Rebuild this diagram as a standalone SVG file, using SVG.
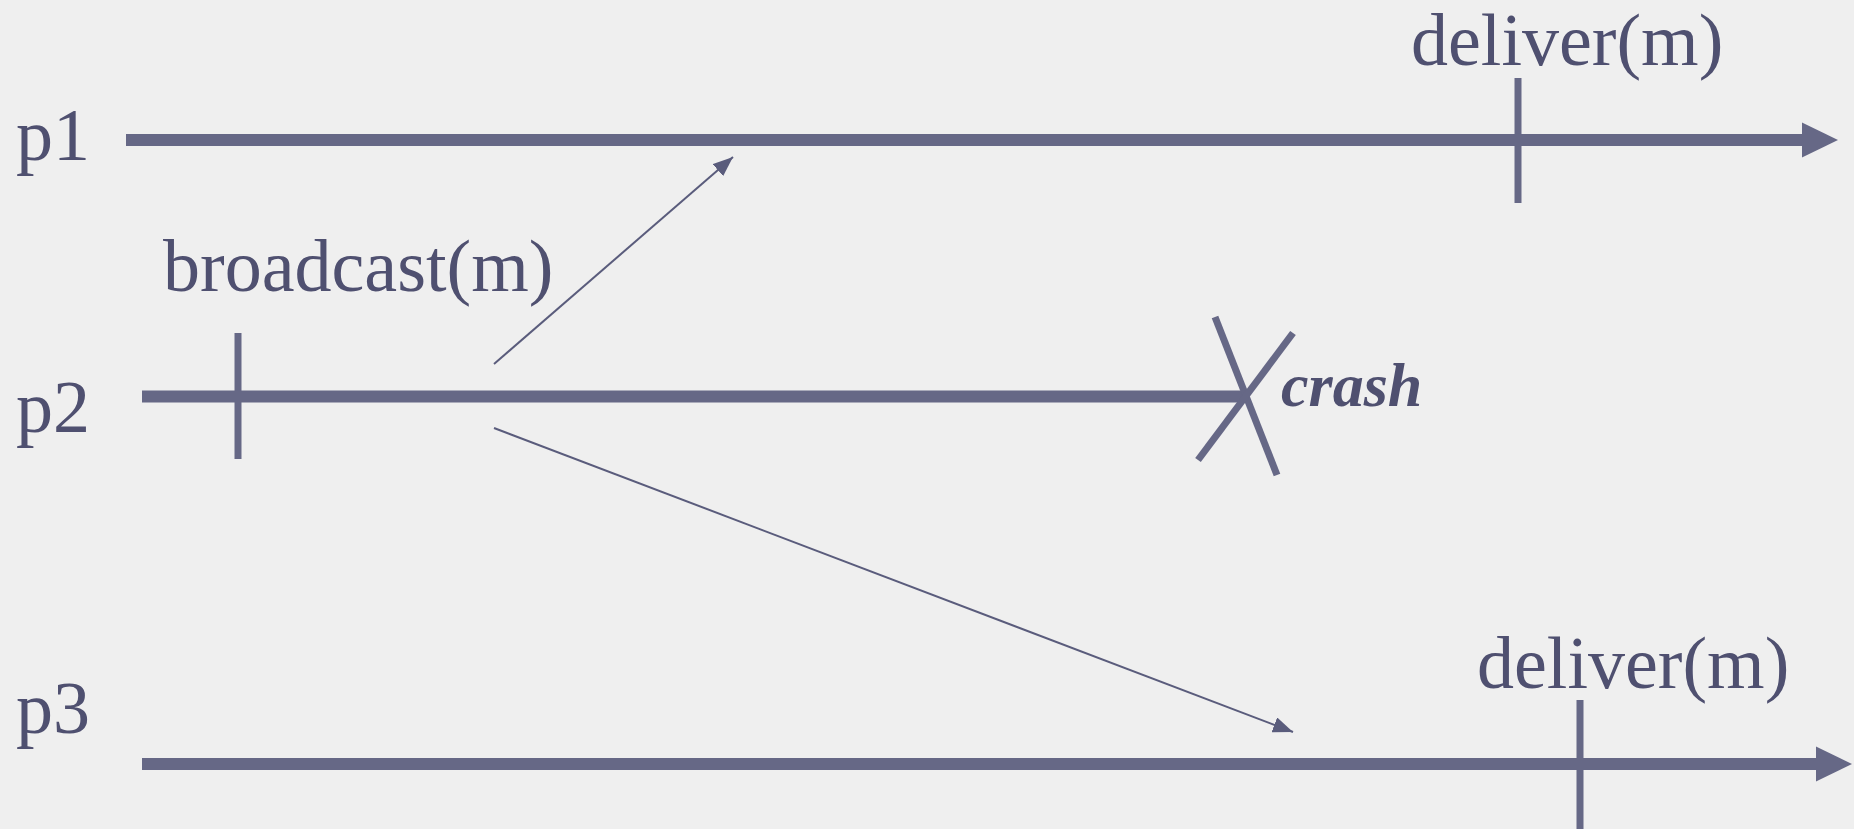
<svg xmlns="http://www.w3.org/2000/svg" width="1854" height="829" viewBox="0 0 1854 829">
<style>
.lbl{font-family:"Liberation Serif","Times New Roman",serif;font-size:74px;fill:#4f5070}
.crash{font-family:"Liberation Serif","Times New Roman",serif;font-size:62px;font-weight:bold;font-style:italic;fill:#4f5070}
.tl{stroke:#666886;stroke-width:12;fill:none}
.tick{stroke:#666886;stroke-width:7;fill:none}
.msg{stroke:#5a5c7c;stroke-width:2;fill:none}
.x{stroke:#666886;stroke-width:7;fill:none}
.head{fill:#666886}
</style>
<defs>
<marker id="ah" markerWidth="20" markerHeight="16" refX="20" refY="8" orient="auto" markerUnits="userSpaceOnUse">
<path d="M0,0 L20,8 L0,16 Z" fill="#5a5c7c"/>
</marker>
</defs>
<rect width="1854" height="829" fill="#efefef"/>
<g id="p1">
<text class="lbl" x="16" y="160">p1</text>
<line class="tl" x1="126" y1="140" x2="1804" y2="140"/>
<polygon class="head" points="1802,122.5 1838,140 1802,157.5"/>
<line class="tick" x1="1518" y1="78" x2="1518" y2="203"/>
<text class="lbl" x="1411" y="65">deliver(m)</text>
</g>
<g id="p2">
<text class="lbl" x="16" y="432">p2</text>
<line class="tl" x1="142" y1="396.5" x2="1247" y2="396.5"/>
<line class="tick" x1="238" y1="333" x2="238" y2="459"/>
<text class="lbl" x="163" y="291">broadcast(m)</text>
<line class="x" x1="1215" y1="317" x2="1277" y2="475"/>
<line class="x" x1="1293" y1="333" x2="1198" y2="460"/>
<text class="crash" x="1281" y="406">crash</text>
</g>
<g id="p3">
<text class="lbl" x="16" y="733">p3</text>
<line class="tl" x1="142" y1="764" x2="1818" y2="764"/>
<polygon class="head" points="1816,746.5 1852,764 1816,781.5"/>
<line class="tick" x1="1580" y1="700" x2="1580" y2="829"/>
<text class="lbl" x="1477" y="688">deliver(m)</text>
</g>
<g id="connectors">
<line class="msg" x1="494" y1="364" x2="733" y2="157" marker-end="url(#ah)"/>
<line class="msg" x1="494" y1="428" x2="1293" y2="732" marker-end="url(#ah)"/>
</g>
</svg>
